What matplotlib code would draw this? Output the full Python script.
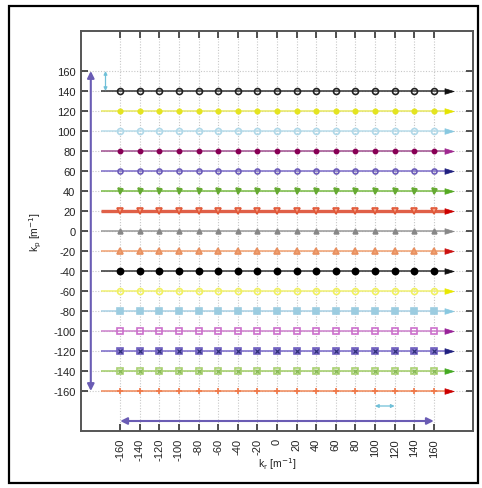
import matplotlib
matplotlib.use("Agg")
import matplotlib.pyplot as plt
from matplotlib.patches import Rectangle
from matplotlib.path import Path

plt.rcParams['font.family'] = ['Liberation Sans', 'DejaVu Sans']

# ---- data ----
kr_ticks = [-160, -140, -120, -100, -80, -60, -40, -20, 0, 20, 40, 60, 80, 100, 120, 140, 160]
kp_ticks = [-160, -140, -120, -100, -80, -60, -40, -20, 0, 20, 40, 60, 80, 100, 120, 140, 160]
kr_points = [-160, -140, -120, -100, -80, -60, -40, -20, 0, 20, 40, 60, 80, 100, 120, 140, 160]
row_kp = [140, 120, 100, 80, 60, 40, 20, 0, -20, -40, -60, -80, -100, -120, -140, -160]
line_start = -180
line_end = 172
head_x = 175
# annotation arrows: (x0, y0, x1, y1)
big_vert = (-190, -160, -190, 160)
small_vert = (-175, 140, -175, 160)
big_horiz = (-160, -190, 160, -190)
small_horiz = (100, -175, 120, -175)

# ---- styles ----
line_colors = ['#333333', '#e8e860', '#b8dcea', '#a05090', '#7c6cc8', '#78bb44', '#e06048',
               '#999999', '#f0a070', '#333333', '#f0f070', '#a8d0e4', '#cc80cc', '#7868c8',
               '#a0cc66', '#f08858']
head_colors = ['#111111', '#e4e400', '#88c8e0', '#a02890', '#202080', '#55aa22', '#cc0000',
               '#888888', '#cc1111', '#111111', '#e8e800', '#88c8e0', '#992299', '#202080',
               '#44aa22', '#cc0000']
markers = ['o', 'o', 'o', 'o', 'o', 'v', 'v', '^', '^', 'o', 'o', 's', 's', 's', 's', '+']
m_face = ['none', '#e4e420', 'none', '#880055', 'none', '#66aa33', '#f4a088', '#888888',
          '#f0a070', '#000000', 'none', '#9ccce0', 'none', '#8a7cd0', 'none', 'none']
m_edge = ['#222222', '#e4e420', '#b0d8e8', '#880055', '#6c5cb8', '#66aa33', '#e05838', '#888888',
          '#e89060', '#000000', '#f0f060', '#9ccce0', '#cc70cc', '#7060c0', '#a8d070', '#f07848']
m_size = [4.3, 3.2, 4.3, 3.0, 3.6, 3.6, 4.6, 3.4, 4.0, 4.4, 4.3, 4.6, 4.8, 3.8, 4.4, 4.0]
line_w = [1.1, 1.1, 1.1, 1.1, 1.1, 1.1, 2.4, 1.1, 1.1, 1.1, 1.1, 1.1, 1.1, 1.1, 1.1, 1.1]

head_marker = Path([(-1.0, -0.62), (1.0, 0.0), (-1.0, 0.62), (-1.0, -0.62)],
                   [Path.MOVETO, Path.LINETO, Path.LINETO, Path.CLOSEPOLY])

fig = plt.figure(figsize=(4.82, 4.89), dpi=100)
ax = fig.add_axes([81/482, 1-432/489, (473-81)/482, (432-32)/489])
ax.set_xlim(-200, 200)
ax.set_ylim(-200, 200)

# grid
for x in kr_ticks:
    ax.axvline(x, color='#c8c8c8', lw=0.8, ls=(0, (1, 1.5)), zorder=0)
for y in kp_ticks:
    ax.axhline(y, color='#c8c8c8', lw=0.8, ls=(0, (1, 1.5)), zorder=0)

for i, kp in enumerate(row_kp):
    ax.plot([line_start, line_end], [kp, kp], color=line_colors[i], lw=line_w[i], zorder=2,
            solid_capstyle='butt')
    ax.plot(kr_points, [kp]*len(kr_points), ls='none', marker=markers[i],
            markersize=m_size[i], markerfacecolor=m_face[i], markeredgecolor=m_edge[i],
            markeredgewidth=1.2, zorder=3)
    if i in (13, 14):
        ax.plot(kr_points, [kp]*len(kr_points), ls='none', marker='x', markersize=m_size[i]*0.6,
                markeredgecolor=('#30307a' if i == 13 else '#88bb55'), markeredgewidth=0.9, zorder=4)
    ax.plot([head_x], [kp], ls='none', marker=head_marker, markersize=6.5,
            markerfacecolor=head_colors[i], markeredgecolor=head_colors[i], markeredgewidth=0.5, zorder=4)

def dbl_arrow(seg, color, lw, ms):
    ax.annotate('', xy=(seg[2], seg[3]), xytext=(seg[0], seg[1]),
                arrowprops=dict(arrowstyle='<|-|>', color=color, lw=lw, mutation_scale=ms,
                                shrinkA=0, shrinkB=0), zorder=5)

dbl_arrow(big_vert, '#6a5cb4', 1.5, 10)
dbl_arrow(small_vert, '#70c0d8', 0.9, 5)
dbl_arrow(big_horiz, '#6a5cb4', 1.5, 10)
dbl_arrow(small_horiz, '#70c0d8', 0.9, 5)

ax.set_xticks(kr_ticks)
ax.set_yticks(kp_ticks)
ax.set_xticklabels([str(v) for v in kr_ticks], rotation=90, fontsize=8)
ax.set_yticklabels([str(v) for v in kp_ticks], fontsize=8)
ax.tick_params(direction='in', length=5, width=1.2, top=True, right=True, color='#333333',
               labelcolor='#222222')
ax.tick_params(axis='y', pad=4)
ax.tick_params(axis='x', pad=5)
for s in ax.spines.values():
    s.set_color('#555555')
    s.set_linewidth(1.4)

fig.text(36/482, 1-232/489, r'k$_\mathrm{p}$ [m$^{-1}$]', rotation=90, ha='center', va='center',
         fontsize=7.5, color='#222222')
fig.text(277/482, 1-464/489, r'k$_\mathrm{r}$ [m$^{-1}$]', ha='center', va='center',
         fontsize=7.5, color='#222222')

fig.add_artist(Rectangle((9/482, 1-484/489), (478-9)/482, (484-7)/489, transform=fig.transFigure,
                         fill=False, lw=1.6, ec='black'))

fig.savefig('out.png', dpi=100)
